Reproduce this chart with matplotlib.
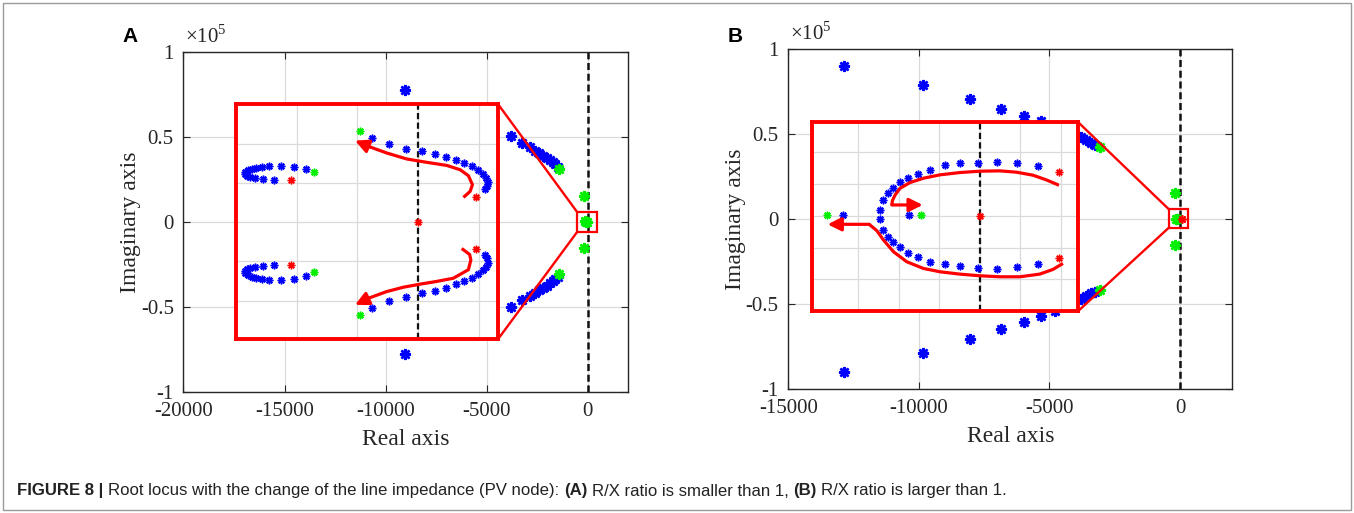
import matplotlib
matplotlib.use("Agg")
import matplotlib.pyplot as plt
from matplotlib.patches import Rectangle, ConnectionPatch
from matplotlib import font_manager

plt.rcParams["font.family"] = ["Liberation Serif", "DejaVu Serif"]
plt.rcParams["axes.unicode_minus"] = False
plt.rcParams["mathtext.fontset"] = "custom"
plt.rcParams["mathtext.rm"] = "Liberation Serif"

# ---------------- panel A (imag part in units of 1e5) ----------------
a_far_x = [-9034, -9034]
a_far_y = [0.776, -0.774]
a_up_x = [-3818, -3274, -2864, -2616, -2404, -2206, -2038, -1875, -1741, -1612, -1494]
a_up_y = [0.503, 0.466, 0.439, 0.418, 0.405, 0.389, 0.376, 0.364, 0.351, 0.339, 0.325]
a_lo_x = [-3818, -3274, -2864, -2616, -2404, -2206, -2038, -1875, -1741, -1612, -1494]
a_lo_y = [-0.499, -0.458, -0.435, -0.416, -0.402, -0.387, -0.374, -0.361, -0.349, -0.336, -0.322]
a_green_x = [-1429, -1429, -208, -208, -150, -90, -40]
a_green_y = [0.311, -0.305, 0.153, -0.151, 0.003, -0.002, 0.0]
a_zoom = (-520, 460, -0.057, 0.057)

# inset A (zoomed region, arbitrary units)
ia_r_up_x = [-75.5, -47.6, -20.8, 5.5, 27.4, 45.4, 61.3, 75.5, 88.6, 98.5, 106.7, 111.0, 113.8, 112.1, 109.4]
ia_r_up_y = [215.5, 201.0, 188.1, 182.2, 174.4, 166.7, 159.0, 152.2, 143.6, 135.1, 124.8, 113.7, 103.5, 92.3, 85.5]
ia_r_lo_x = [-75.5, -47.6, -20.8, 5.5, 27.4, 45.4, 61.3, 75.5, 88.6, 98.5, 106.7, 111.0, 113.8, 112.1, 109.4]
ia_r_lo_y = [-218.0, -201.8, -191.5, -181.3, -174.4, -166.7, -158.2, -149.6, -142.8, -132.5, -122.3, -112.9, -102.6, -91.5, -82.9]
ia_l_up_x = [-184.3, -204.0, -225.9, -244.5, -257.1, -266.4, -273.5, -279.5, -283.9, -284.4, -281.7, -276.2, -268.6, -255.5, -236.3]
ia_l_up_y = [136.8, 141.9, 144.5, 143.6, 141.9, 139.4, 136.8, 133.4, 128.3, 123.1, 118.9, 115.4, 112.9, 110.3, 108.6]
ia_l_lo_x = [-184.3, -204.0, -225.9, -244.5, -257.1, -266.4, -273.5, -279.5, -283.9, -284.4, -281.7, -276.2, -268.6, -255.5, -236.3]
ia_l_lo_y = [-136.0, -143.6, -146.2, -146.2, -143.6, -141.1, -138.5, -134.2, -128.3, -123.1, -118.8, -115.4, -112.9, -111.2, -108.6]
ia_green_x = [-95.2, -95.2, -170.7, -170.7]
ia_green_y = [233.4, -236.8, 128.3, -127.5]
ia_red_x = [94.1, 94.1, -209.0, -209.0, 0.0]
ia_red_y = [65.0, -67.5, 108.6, -107.7, 0.0]
ia_arrow_up = [(73.8, 64.1), (84.8, 79.5), (88.6, 96.6), (82.0, 119.7), (68.4, 135.0), (46.5, 146.0),
               (13.7, 153.9), (-19.1, 162.5), (-52.0, 177.8), (-79.3, 193.2), (-104.0, 209.5)]
ia_arrow_lo = [(71.0, -66.7), (84.0, -82.0), (86.0, -95.8), (82.0, -121.0), (57.4, -142.8), (30.0, -151.0),
               (2.7, -158.0), (-25.0, -166.0), (-52.0, -177.0), (-80.0, -193.0), (-104.0, -211.0)]

# ---------------- panel B ----------------
b_far_x = [-12868, -9842, -8039, -6842, -5974, -5316, -4776, -12868, -9842, -8039, -6842, -5974, -5316, -4776]
b_far_y = [0.902, 0.788, 0.708, 0.649, 0.605, 0.578, 0.545, -0.900, -0.786, -0.708, -0.649, -0.605, -0.568, -0.541]
b_near_x = [-3789, -3592, -3395, -3263, -3789, -3592, -3395, -3263]
b_near_y = [0.480, 0.464, 0.448, 0.435, -0.468, -0.452, -0.438, -0.428]
b_green_x = [-3066, -3066, -210, -210, -171, -110]
b_green_y = [0.421, -0.415, 0.154, -0.150, 0.0, 0.0]
b_red_x = [92]
b_red_y = [0.0]
b_zoom = (-421, 316, -0.050, 0.056)

ib_blue_x = [143.4, 92.6, 43.4, -4.1, -48.4, -86.1, -122.1, -151.6, -177.9, -197.5, -213.1, -227.0, -238.5, -247.5,
             -247.5, -238.5, -227.0, -213.1, -197.5, -177.9, -151.6, -122.1, -86.1, -48.4, -4.1, 43.4, 92.6, 143.4,
             -337.7, -174.6]
ib_blue_y = [157.9, 166.3, 169.5, 168.4, 165.3, 160.0, 145.3, 133.7, 120.0, 106.3, 88.4, 71.6, 50.5, 17.9,
             -10.5, -44.2, -66.3, -83.2, -98.9, -115.8, -130.5, -144.2, -152.6, -158.9, -164.2, -167.4, -161.0, -151.6,
             2.1, 2.1]
ib_green_x = [-377.0, -145.9]
ib_green_y = [2.1, 2.1]
ib_red_x = [195.0, 195.0, 0.0]
ib_red_y = [139.0, -133.7, 0.0]
ib_arrow_up = [(195.1, 96.8), (163.9, 113.7), (131.2, 128.4), (90.2, 137.9), (49.2, 142.1), (0.0, 141.0),
               (-49.2, 136.8), (-98.4, 129.5), (-139.3, 118.9), (-172.1, 105.3), (-196.7, 87.4), (-209.0, 66.3),
               (-215.6, 48.4), (-217.2, 34.7), (-141.0, 34.7)]
ib_arrow_lo = [(204.9, -149.5), (180.3, -168.4), (147.5, -183.2), (98.4, -191.6), (49.2, -191.6), (0.0, -188.4),
               (-49.2, -183.2), (-98.4, -175.8), (-139.3, -165.3), (-180.3, -144.2), (-213.1, -112.6),
               (-237.7, -75.8), (-254.1, -46.3), (-273.0, -26.3), (-375.4, -26.3)]

BLUE, GREEN, RED = "#0000ff", "#00ee00", "#ff0000"
STAR = (8, 2, 0)
GRID = "#dadada"


def stars(ax, x, y, color, ms, mew):
    ax.plot(x, y, ls="none", marker=STAR, ms=ms, mew=mew, mec=color, mfc=color, zorder=3)


def setup_main(ax, xlim, xticks):
    ax.set_xlim(*xlim)
    ax.set_ylim(-1, 1)
    ax.set_xticks(xticks)
    ax.set_xticklabels([str(t) for t in xticks])
    ax.set_yticks([-1, -0.5, 0, 0.5, 1])
    ax.set_yticklabels(["-1", "-0.5", "0", "0.5", "1"])
    ax.tick_params(direction="in", top=True, right=True, length=5, width=0.8,
                   labelsize=15, pad=7, color="#262626", labelcolor="#262626")
    ax.grid(True, color=GRID, lw=0.9)
    ax.set_axisbelow(True)
    for s in ax.spines.values():
        s.set_color("#262626")
        s.set_linewidth(1.0)
    ax.set_xlabel("Real axis", fontsize=17, color="#262626", labelpad=6)
    ax.set_ylabel("Imaginary axis", fontsize=17, color="#262626", labelpad=0)
    ax.axvline(0, color="#111111", ls=(0, (2.8, 1.5)), lw=1.8, zorder=2)
    ax.text(0.004, 1.012, r"$\times10^{5}$", transform=ax.transAxes, fontsize=15,
            ha="left", va="bottom", color="#262626")


def setup_inset(ax, box, xlim, ylim, xgrid, ygrid):
    ins = ax.inset_axes(box, zorder=5)
    ins.set_xlim(*xlim)
    ins.set_ylim(*ylim)
    ins.set_xticks(xgrid)
    ins.set_yticks(ygrid)
    ins.tick_params(length=0, labelbottom=False, labelleft=False)
    ins.grid(True, color=GRID, lw=0.9)
    ins.set_axisbelow(True)
    ins.set_facecolor("white")
    for s in ins.spines.values():
        s.set_color(RED)
        s.set_linewidth(2.8)
    ins.axvline(0, color="#111111", ls=(0, (2.8, 1.5)), lw=1.6, zorder=2)
    return ins


def red_arrow(ax, pts):
    xs = [p[0] for p in pts[:-1]]
    ys = [p[1] for p in pts[:-1]]
    ax.plot(xs, ys, color=RED, lw=2.3, solid_capstyle="butt", zorder=4)
    ax.annotate("", xy=pts[-1], xytext=pts[-2],
                arrowprops=dict(arrowstyle="-|>", color=RED, lw=2.3, mutation_scale=20,
                                shrinkA=0, shrinkB=0), zorder=4)


def zoom_marks(fig, ax, ins, zoom):
    x0, x1, y0, y1 = zoom
    ax.add_patch(Rectangle((x0, y0), x1 - x0, y1 - y0, fill=False, ec=RED, lw=1.6, zorder=4))
    for ya, yb in [(1, y1), (0, y0)]:
        con = ConnectionPatch(xyA=(1, ya), coordsA=ins.transAxes, xyB=(x0, yb), coordsB=ax.transData,
                              color=RED, lw=1.7)
        fig.add_artist(con)


W, H = 1354, 513
fig = plt.figure(figsize=(W / 100, H / 100), dpi=100)

# ---- A ----
axA = fig.add_axes([183.5 / W, 1 - 392.3 / H, 444.8 / W, 340.6 / H])
setup_main(axA, (-20000, 2000), [-20000, -15000, -10000, -5000, 0])
stars(axA, a_far_x, a_far_y, BLUE, 8, 1.8)
stars(axA, a_up_x, a_up_y, BLUE, 8, 1.8)
stars(axA, a_lo_x, a_lo_y, BLUE, 8, 1.8)
stars(axA, a_green_x, a_green_y, GREEN, 8, 1.8)
insA = setup_inset(axA, [0.117, 0.157, 0.5907, 0.688], (-300, 131), (-298, 302),
                   [-200, -100, 0, 100], [-200, -100, 0, 100, 200])
stars(insA, ia_r_up_x, ia_r_up_y, BLUE, 5.5, 1.1)
stars(insA, ia_r_lo_x, ia_r_lo_y, BLUE, 5.5, 1.1)
stars(insA, ia_l_up_x, ia_l_up_y, BLUE, 5.5, 1.1)
stars(insA, ia_l_lo_x, ia_l_lo_y, BLUE, 5.5, 1.1)
stars(insA, ia_green_x, ia_green_y, GREEN, 5.5, 1.1)
stars(insA, ia_red_x, ia_red_y, RED, 5.5, 1.0)
red_arrow(insA, ia_arrow_up)
red_arrow(insA, ia_arrow_lo)
zoom_marks(fig, axA, insA, a_zoom)

# ---- B ----
axB = fig.add_axes([788.3 / W, 1 - 389 / H, 444 / W, 340 / H])
setup_main(axB, (-15000, 2000), [-15000, -10000, -5000, 0])
stars(axB, b_far_x, b_far_y, BLUE, 8, 1.8)
stars(axB, b_near_x, b_near_y, BLUE, 8, 1.8)
stars(axB, b_green_x, b_green_y, GREEN, 8, 1.8)
stars(axB, b_red_x, b_red_y, RED, 6, 1.2)
insB = setup_inset(axB, [0.0534, 0.2288, 0.599, 0.5565], (-414, 242), (-300, 296),
                   [-300, -200, -100, 0, 100, 200], [-200, -100, 0, 100, 200])
stars(insB, ib_blue_x, ib_blue_y, BLUE, 5.5, 1.1)
stars(insB, ib_green_x, ib_green_y, GREEN, 5.5, 1.1)
stars(insB, ib_red_x, ib_red_y, RED, 5.5, 1.0)
red_arrow(insB, ib_arrow_up)
red_arrow(insB, ib_arrow_lo)
zoom_marks(fig, axB, insB, b_zoom)

# panel letters
for lx, lab in [(130, "A"), (735, "B")]:
    fig.text(lx / W, 1 - 36 / H, lab, family="Liberation Sans", fontweight="bold",
             fontsize=15, ha="center", va="center")

# caption, bold and normal pieces laid out one after another
names = {f.name for f in font_manager.fontManager.ttflist}
cap_font = "Liberation Sans Narrow" if "Liberation Sans Narrow" in names else "Liberation Sans"
cap_size = 12.1
caption = [("FIGURE 8 |", "bold"),
           ("Root locus with the change of the line impedance (PV node):", "normal"),
           ("(A)", "bold"), ("R/X ratio is smaller than 1,", "normal"),
           ("(B)", "bold"), ("R/X ratio is larger than 1.", "normal")]
renderer = fig.canvas.get_renderer()
t1 = fig.text(0, 0, "x x", family=cap_font, fontsize=cap_size)
t2 = fig.text(0, 0, "xx", family=cap_font, fontsize=cap_size)
space = t1.get_window_extent(renderer).width - t2.get_window_extent(renderer).width
t1.remove()
t2.remove()
x = 17.0
for s, wt in caption:
    t = fig.text(x / W, 1 - 491 / H, s, family=cap_font, fontweight=wt, fontsize=cap_size,
                 ha="left", va="center", color="#222222")
    x += t.get_window_extent(renderer).width + space

fig.add_artist(Rectangle((3 / W, 3 / H), 1 - 6 / W, 1 - 6 / H, transform=fig.transFigure,
                         fill=False, ec="#9a9a9a", lw=1.0))

fig.savefig("out.png", dpi=100)
